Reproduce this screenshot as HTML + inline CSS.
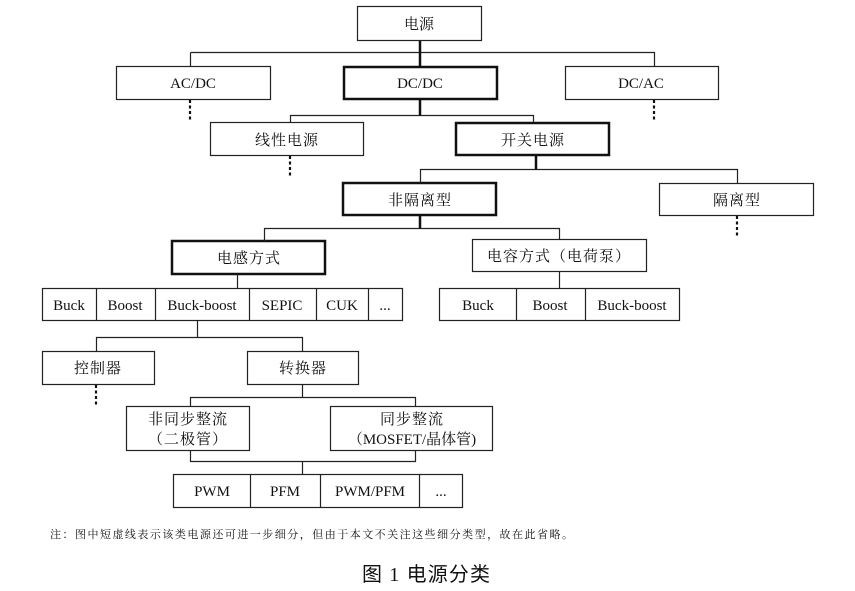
<!DOCTYPE html>
<html><head><meta charset="utf-8"><style>
html,body{margin:0;padding:0;background:#fff;}
svg{display:block;}
text{font-family:"Liberation Serif","Noto Serif CJK SC",serif;font-size:15px;fill:#111;text-anchor:middle;}
</style></head><body>
<svg width="855" height="591" viewBox="0 0 855 591" xmlns="http://www.w3.org/2000/svg">
<g fill="#fff" stroke="#222" stroke-width="1.2">
<rect x="357.5" y="6.5" width="124" height="34"/>
<rect x="116.5" y="66.5" width="154" height="33"/>
<rect x="565.5" y="66.5" width="153" height="33"/>
<rect x="210.5" y="122.5" width="153" height="33"/>
<rect x="659.5" y="183.5" width="154" height="32"/>
<rect x="472.5" y="239.5" width="174" height="32"/>
<rect x="42.5" y="288.5" width="360" height="32"/>
<rect x="439.5" y="288.5" width="240" height="32"/>
<rect x="42.5" y="351.5" width="112" height="33"/>
<rect x="247.5" y="351.5" width="111" height="33"/>
<rect x="126.5" y="406.5" width="123" height="44"/>
<rect x="330.5" y="406.5" width="162" height="44"/>
<rect x="173.5" y="474.5" width="289" height="33"/>
</g>
<g fill="#fff" stroke="#111" stroke-width="2.5">
<rect x="344" y="67" width="153" height="32"/>
<rect x="456" y="123" width="153" height="32"/>
<rect x="343" y="183" width="153" height="32"/>
<rect x="172" y="241" width="153" height="33"/>
</g>
<g stroke="#222" stroke-width="1.2" fill="none">
<path d="M96.5 288.5V320.5M155.5 288.5V320.5M249.5 288.5V320.5M316.5 288.5V320.5M368.5 288.5V320.5"/>
<path d="M516.5 288.5V320.5M585.5 288.5V320.5"/>
<path d="M250.5 474.5V507.5M320.5 474.5V507.5M419.5 474.5V507.5"/>
<path d="M190.5 52.5H654.5V66M190.5 52.5V66"/>
<path d="M290.5 122V115.5H533.5V122"/>
<path d="M420.5 183V169.5H737.5V183"/>
<path d="M264.5 241V228.5H559.5V239"/>
<path d="M559.5 272V288"/>
<path d="M237.5 274V288"/>
<path d="M96.5 351V337.5H302.5V351M197.5 321V337"/>
<path d="M190.5 406V397.5H415.5V406M302.5 385V397"/>
<path d="M190.5 451V461.5H415.5V451M302.5 461V474"/>
</g>
<g stroke="#111" stroke-width="2.5" fill="none">
<path d="M420 41V67M420 99V115.5M536 155V169.5M420 215V228.5"/>
</g>
<g stroke="#111" stroke-width="2.2" stroke-dasharray="3,2.5" fill="none">
<path d="M190 100V120M654 100V120M290 156V177M737 216V237M96 385V405"/>
</g>
<text x="419" y="29">电源</text>
<text x="193" y="88">AC/DC</text>
<text x="420" y="88">DC/DC</text>
<text x="641" y="88">DC/AC</text>
<text x="287" y="145" letter-spacing="1">线性电源</text>
<text x="533" y="145" letter-spacing="1">开关电源</text>
<text x="420" y="205" letter-spacing="1">非隔离型</text>
<text x="737" y="205" letter-spacing="1">隔离型</text>
<text x="249" y="263" letter-spacing="1">电感方式</text>
<text x="559" y="261" letter-spacing="1">电容方式（电荷泵）</text>
<text x="69" y="310">Buck</text>
<text x="125" y="310">Boost</text>
<text x="202" y="310">Buck-boost</text>
<text x="282" y="310">SEPIC</text>
<text x="342" y="310">CUK</text>
<text x="385" y="310">...</text>
<text x="478" y="310">Buck</text>
<text x="550" y="310">Boost</text>
<text x="632" y="310">Buck-boost</text>
<text x="98" y="373" letter-spacing="1">控制器</text>
<text x="303" y="373" letter-spacing="1">转换器</text>
<text x="188" y="424" letter-spacing="1">非同步整流</text>
<text x="188" y="444" letter-spacing="1">（二极管）</text>
<text x="412" y="424" letter-spacing="1">同步整流</text>
<text x="412" y="444">（MOSFET/晶体管)</text>
<text x="212" y="496">PWM</text>
<text x="285" y="496">PFM</text>
<text x="370" y="496">PWM/PFM</text>
<text x="441" y="496">...</text>
<text x="50" y="538" style="font-size:11px;text-anchor:start" textLength="523" lengthAdjust="spacing">注：图中短虚线表示该类电源还可进一步细分，但由于本文不关注这些细分类型，故在此省略。</text>
<text x="362" y="581" style="font-family:'Liberation Serif','Noto Sans CJK SC',sans-serif;font-size:20px;text-anchor:start" textLength="128" lengthAdjust="spacing">图 1 电源分类</text>
</svg>
</body></html>
